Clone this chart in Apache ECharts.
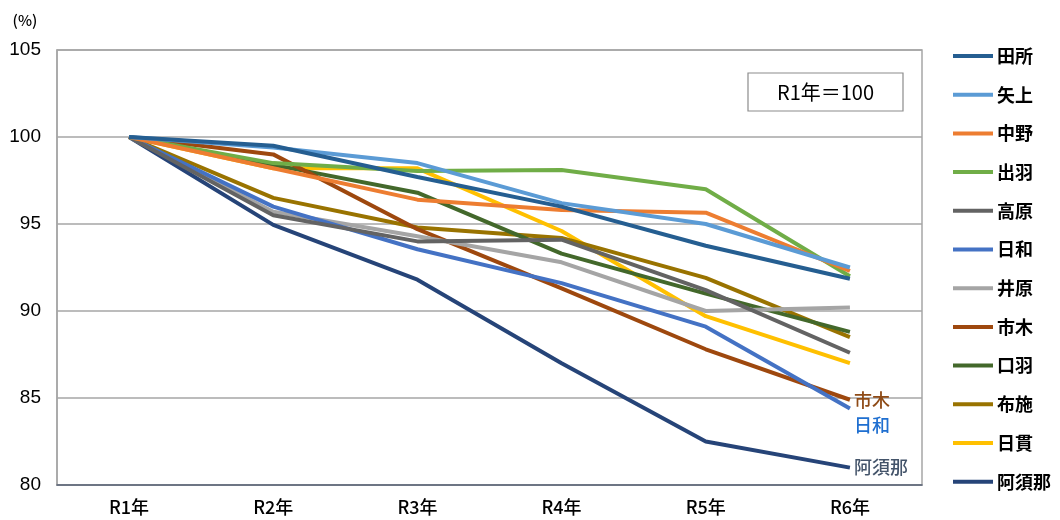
<!DOCTYPE html>
<html><head><meta charset="utf-8">
<script src="https://cdn.jsdelivr.net/npm/echarts@6/dist/echarts.min.js"></script>
<style>html,body{margin:0;padding:0;background:#fff}#c{width:1060px;height:520px}</style>
</head><body><div id="c"></div>
<script>
const categories = ['R1年','R2年','R3年','R4年','R5年','R6年'];
const names = ['田所','矢上','中野','出羽','高原','日和','井原','市木','口羽','布施','日貫','阿須那'];
const tadokoro = [100, 99.5, 97.7, 96.0, 93.75, 91.85];
const yakami   = [100, 99.4, 98.5, 96.2, 95.0, 92.5];
const nakano   = [100, 98.2, 96.4, 95.8, 95.65, 92.3];
const izuha    = [100, 98.5, 98.05, 98.1, 97.0, 92.0];
const takahara = [100, 95.5, 94.0, 94.1, 91.2, 87.6];
const hiwa     = [100, 96.0, 93.55, 91.6, 89.1, 84.4];
const ibara    = [100, 95.7, 94.3, 92.8, 90.0, 90.2];
const ichiki   = [100, 99.0, 94.7, 91.3, 87.8, 84.9];
const kuchiba  = [100, 98.4, 96.8, 93.3, 91.0, 88.8];
const fuse     = [100, 96.5, 94.8, 94.2, 91.9, 88.5];
const hinuki   = [100, 98.2, 98.2, 94.6, 89.7, 87.0];
const asuna    = [100, 94.95, 91.8, 87.0, 82.5, 81.0];
const seriesData = [tadokoro, yakami, nakano, izuha, takahara, hiwa, ibara, ichiki, kuchiba, fuse, hinuki, asuna];
const colors = ['#255E91','#5B9BD5','#ED7D31','#70AD47','#636363','#4472C4','#A5A5A5','#9E480E','#43682B','#997300','#FFC000','#264478'];
const yTicks = [80, 85, 90, 95, 100, 105];
const endLabels = {'市木': {color:'#8E4A16', dy:0}, '日和': {color:'#1F6FD0', dy:17}, '阿須那': {color:'#44546A', dy:0}};

const font = '"Noto Sans CJK JP", sans-serif';
const chart = echarts.init(document.getElementById('c'), null, {renderer:'canvas'});
chart.setOption({
  animation:false,
  color: colors,
  grid:{left:57, right:138, top:50, bottom:35, show:true, borderColor:'#A6A6A6', borderWidth:1.5},
  legend:{
    orient:'vertical', left:953, top:46, itemGap:18.7, itemWidth:40, itemHeight:4,
    icon:'rect', padding:0,
    textStyle:{fontFamily:font, fontSize:18, lineHeight:20, fontWeight:'bold', color:'#000', padding:[0,0,0,-1]},
    data: names
  },
  xAxis:{
    type:'category', data:categories, boundaryGap:true,
    axisLine:{show:true, lineStyle:{color:'#5A6478', width:1.5}},
    axisTick:{show:false},
    axisLabel:{fontFamily:font, fontSize:18, fontWeight:500, color:'#000', margin:13}
  },
  yAxis:{
    type:'value', min:80, max:105, interval:5,
    axisLine:{show:true, lineStyle:{color:'#A6A6A6', width:1.5}},
    axisTick:{show:false},
    splitLine:{lineStyle:{color:'#A6A6A6', width:1.5}},
    axisLabel:{fontFamily:'"Liberation Sans", Arial, sans-serif', fontSize:19, color:'#000', margin:16}
  },
  graphic:[
    {type:'text', x:25, y:20, style:{text:'(%)', fontFamily:font, fontSize:15, fontWeight:500, fill:'#000', align:'center', verticalAlign:'middle'}},
    {type:'rect', shape:{x:748, y:73, width:155, height:38}, style:{fill:'#fff', stroke:'#8C8C8C', lineWidth:1.2}, z:10},
    {type:'text', x:825.5, y:92, style:{text:'R1年＝100', fontFamily:font, fontSize:20, fill:'#000', align:'center', verticalAlign:'middle'}, z:11}
  ],
  series: names.map((n,i)=>{
    const s = {name:n, type:'line', data:seriesData[i], symbol:'none', lineStyle:{width:4, color:colors[i]}, itemStyle:{color:colors[i]}, z: 12 - i};
    if (endLabels[n]) {
      s.endLabel = {show:true, formatter:n, color:endLabels[n].color, fontFamily:font, fontSize:18, fontWeight:500, distance:4, offset:[0, endLabels[n].dy]};
    }
    return s;
  })
});
</script></body></html>
